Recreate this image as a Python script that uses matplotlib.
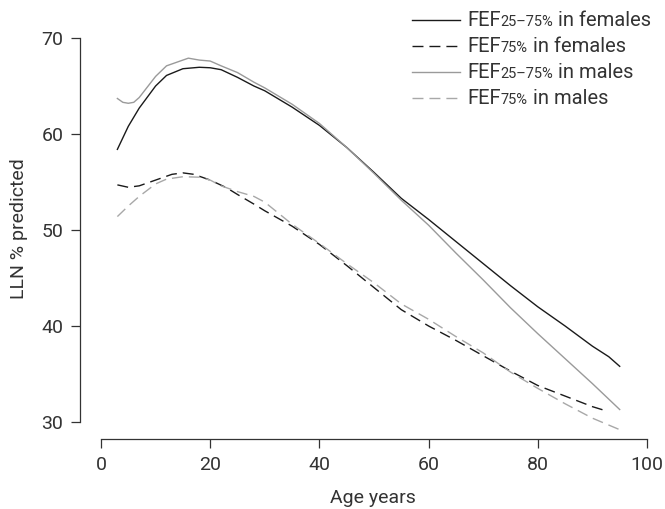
import matplotlib
matplotlib.use("Agg")
import matplotlib.pyplot as plt
from matplotlib.lines import Line2D

plt.rcParams['font.family'] = ['Roboto', 'DejaVu Sans']
plt.rcParams['lines.scale_dashes'] = False

TXT = '#333333'
BLACK = '#1a1a1a'
GREY = '#9a9a9a'
GREY_D = '#a8a8a8'

# LLN as % predicted, by age
age_f2575 = [3, 5, 7, 10, 12, 15, 18, 20, 22, 25, 28, 30, 35, 40, 45, 50,
             55, 60, 65, 70, 75, 80, 85, 90, 93, 95]
fef2575_f = [58.4, 60.8, 62.7, 65.0, 66.1, 66.8, 66.95, 66.9, 66.7, 65.9, 65.0,
             64.5, 62.8, 60.9, 58.6, 56.0, 53.3, 51.1, 48.8, 46.5, 44.2, 42.0,
             40.0, 37.9, 36.8, 35.8]

age_m2575 = [3, 4, 5, 6, 7, 10, 12, 14, 16, 18, 20, 22, 25, 28, 30, 35, 40,
             45, 50, 55, 60, 65, 70, 75, 80, 85, 90, 95]
fef2575_m = [63.7, 63.3, 63.2, 63.3, 63.8, 66.0, 67.1, 67.5, 67.9, 67.7, 67.6,
             67.1, 66.4, 65.4, 64.8, 63.1, 61.1, 58.6, 55.9, 53.1, 50.5, 47.6,
             44.8, 41.9, 39.2, 36.6, 34.0, 31.3]

age_f75 = [3, 5, 7, 10, 13, 15, 17, 20, 23, 25, 28, 30, 35, 40, 45, 50, 55,
           60, 65, 70, 75, 80, 85, 90, 92]
fef75_f = [54.7, 54.45, 54.6, 55.2, 55.8, 55.95, 55.8, 55.2, 54.4, 53.7, 52.7,
           52.0, 50.4, 48.5, 46.3, 44.0, 41.7, 40.0, 38.5, 36.9, 35.3, 33.8,
           32.7, 31.6, 31.25]

age_m75 = [3, 5, 7, 10, 12, 15, 18, 20, 22, 25, 28, 30, 35, 40, 45, 50, 55,
           60, 65, 70, 75, 80, 85, 90, 95]
fef75_m = [51.4, 52.5, 53.5, 54.8, 55.3, 55.55, 55.5, 55.2, 54.6, 54.0, 53.5,
           52.9, 50.6, 48.6, 46.5, 44.5, 42.3, 40.7, 38.9, 37.2, 35.2, 33.5,
           31.9, 30.4, 29.2]

x_ticks = [0, 20, 40, 60, 80, 100]
y_ticks = [30, 40, 50, 60, 70]

W, H = 665, 509
fig = plt.figure(figsize=(W / 100, H / 100), dpi=100)
ax = fig.add_axes([101 / W, 87 / H, 546 / W, 384 / H])

DASH = (7.9, 4.3)
ax.plot(age_f2575, fef2575_f, color=BLACK, lw=1.0, clip_on=False)
ax.plot(age_f75, fef75_f, color=BLACK, lw=1.0, dashes=DASH, clip_on=False)
ax.plot(age_m2575, fef2575_m, color=GREY, lw=1.0, clip_on=False)
ax.plot(age_m75, fef75_m, color=GREY_D, lw=1.0, dashes=DASH, clip_on=False)

ax.set_xlim(0, 100)
ax.set_ylim(30, 70)
ax.set_xticks(x_ticks)
ax.set_yticks(y_ticks)
for s in ('top', 'right'):
    ax.spines[s].set_visible(False)
ax.spines['left'].set_position(('outward', 15.1))
ax.spines['bottom'].set_position(('outward', 12.2))
for s in ('left', 'bottom'):
    ax.spines[s].set_color(TXT)
    ax.spines[s].set_linewidth(0.9)
ax.tick_params(axis='both', direction='out', length=6.5, width=0.9,
               colors=TXT, labelsize=14, labelcolor=TXT)
ax.tick_params(axis='y', pad=5.5)
ax.tick_params(axis='x', pad=5.5)

fig.text(19 / W, 1 - 229 / H, 'LLN % predicted', rotation=90, ha='center',
         va='center', fontsize=14, color=TXT)
fig.text(373 / W, 1 - 503 / H, 'Age years', ha='center', va='baseline',
         fontsize=14, color=TXT)

# Key: line sample, then "FEF" + smaller range + sex
entries = [
    ('25–75%', ' in females', BLACK, None),
    ('75%', ' in females', BLACK, DASH),
    ('25–75%', ' in males', GREY, None),
    ('75%', ' in males', GREY_D, DASH),
]
line_y = [20.0, 46.0, 72.0, 98.0]
renderer = fig.canvas.get_renderer()
for (sub, tail, col, dash), ly in zip(entries, line_y):
    yf = 1 - ly / H
    kw = dict(color=col, lw=1.0, transform=fig.transFigure)
    if dash:
        kw['dashes'] = dash
    fig.add_artist(Line2D([412 / W, 460 / W], [yf, yf], **kw))
    base = 1 - (ly + 6.5) / H
    x = 467
    for txt, fs in (('FEF', 14.5), (sub, 10.5), (tail, 14.5)):
        t = fig.text(x / W, base, txt, fontsize=fs, color=TXT, ha='left',
                     va='baseline')
        x += t.get_window_extent(renderer).width

fig.savefig('out.png', dpi=100)
